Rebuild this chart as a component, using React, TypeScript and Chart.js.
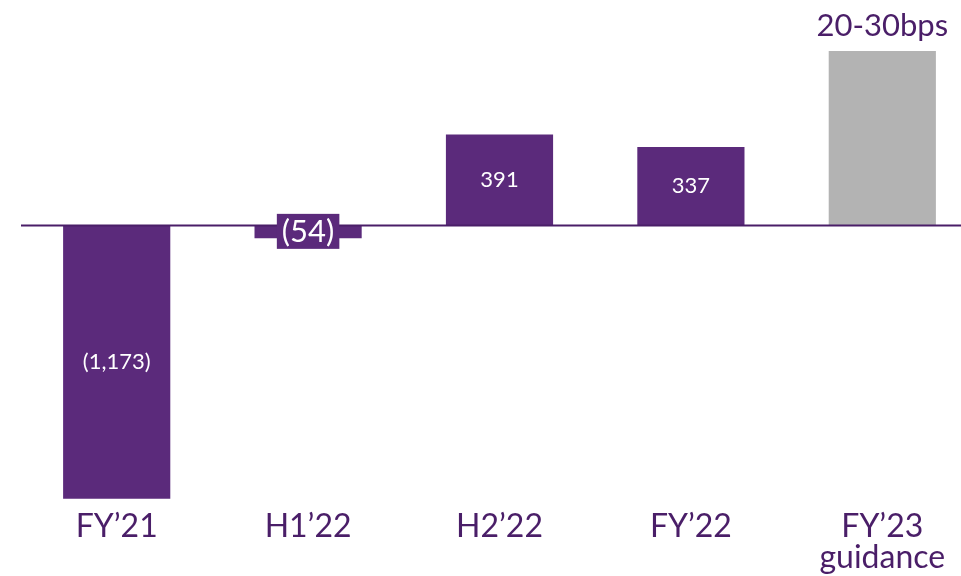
import React, { useEffect, useRef } from "react";
import { Chart, registerables } from "chart.js";

Chart.register(...registerables);

const categories: (string | string[])[] = ["FY’21", "H1’22", "H2’22", "FY’22", ["FY’23", "guidance"]];
const values: number[] = [-1173, -54, 391, 337, 750];
const valueLabels: string[] = ["(1,173)", "(54)", "391", "337", ""];
const guidanceLabel = "20-30bps";

const PURPLE = "#5b2a7b";
const DARK = "#4a1e68";
const GRAY = "#b3b3b3";
const barColors = [PURPLE, PURPLE, PURPLE, PURPLE, GRAY];
const FONT = "Lato, 'Open Sans', sans-serif";

const labelPlugin = {
  id: "labels",
  afterDatasetsDraw(chart: any) {
    const { ctx, chartArea, scales } = chart;
    const y0 = scales.y.getPixelForValue(0);
    ctx.save();
    ctx.strokeStyle = DARK;
    ctx.lineWidth = 2;
    ctx.beginPath();
    ctx.moveTo(chartArea.left, y0);
    ctx.lineTo(chartArea.right, y0);
    ctx.stroke();

    const meta = chart.getDatasetMeta(0);
    meta.data.forEach((bar: any, i: number) => {
      const txt = valueLabels[i];
      const cx = bar.x;
      const cy = (bar.y + bar.base) / 2;
      ctx.textAlign = "center";
      ctx.textBaseline = "middle";
      if (i === 1) {
        ctx.font = `31px ${FONT}`;
        const w = ctx.measureText(txt).width + 10;
        ctx.fillStyle = PURPLE;
        ctx.fillRect(cx - w / 2, cy - 18, w, 35);
        ctx.fillStyle = "#ffffff";
        ctx.fillText(txt, cx, cy);
      } else if (txt) {
        ctx.font = `22px ${FONT}`;
        ctx.fillStyle = "#ffffff";
        ctx.fillText(txt, cx, cy);
      }
      if (i === 4) {
        ctx.font = `31px ${FONT}`;
        ctx.fillStyle = DARK;
        ctx.fillText(guidanceLabel, cx, bar.y - 25);
      }
    });
    ctx.restore();
  },
};

export default function App() {
  const ref = useRef<HTMLCanvasElement>(null);
  useEffect(() => {
    if (!ref.current) return;
    const chart = new Chart(ref.current, {
      type: "bar",
      data: {
        labels: categories,
        datasets: [
          {
            data: values,
            backgroundColor: barColors,
            borderWidth: 0,
            barPercentage: 0.56,
            categoryPercentage: 1,
          },
        ],
      },
      options: {
        responsive: false,
        animation: false,
        layout: { padding: { left: 21, right: 2, top: 16, bottom: 0 } },
        plugins: { legend: { display: false }, tooltip: { enabled: false } },
        scales: {
          x: {
            grid: { display: false, drawTicks: false },
            border: { display: false },
            ticks: {
              color: DARK,
              padding: 6,
              maxRotation: 0,
              font: { size: 32, family: FONT, lineHeight: 0.98 },
            },
            afterFit: (scale: any) => {
              scale.height = 71;
            },
          },
          y: {
            display: false,
            min: -1200,
            max: 900,
          },
        },
      },
      plugins: [labelPlugin],
    });
    return () => chart.destroy();
  }, []);
  return (
    <div style={{ position: "absolute", left: 0, top: 0, width: 961, height: 576, overflow: "hidden", background: "#fff" }}>
      <canvas ref={ref} width={980} height={576} style={{ display: "block" }} />
    </div>
  );
}
